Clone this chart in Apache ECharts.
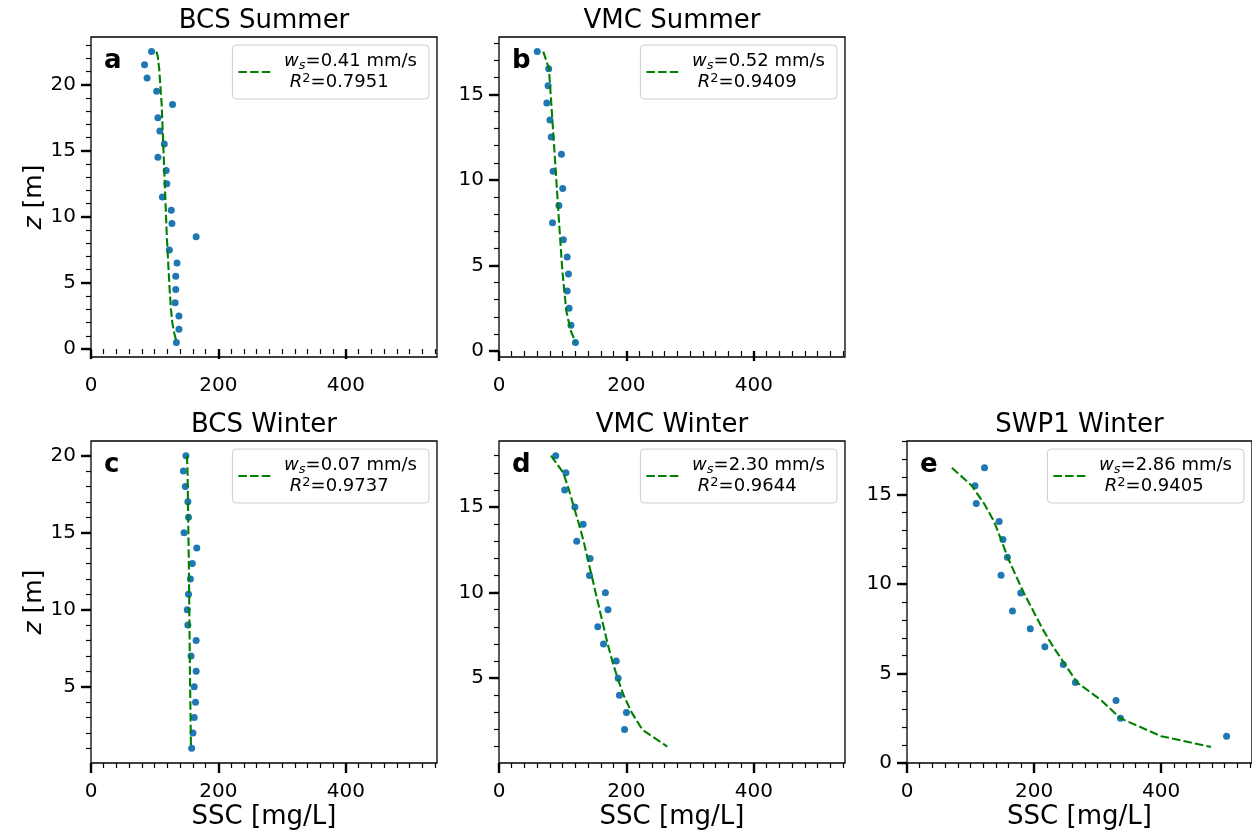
<!DOCTYPE html>
<html><head><meta charset="utf-8">
<script src="https://cdn.jsdelivr.net/npm/echarts@6/dist/echarts.min.js"></script>
<style>html,body{margin:0;padding:0;background:#fff}#c{width:1252px;height:836px}</style>
</head><body><div id="c"></div>
<script>
// ---------- data ----------
const titles = ['BCS Summer', 'VMC Summer', 'BCS Winter', 'VMC Winter', 'SWP1 Winter'];
const letters = ['a', 'b', 'c', 'd', 'e'];
const wsVals = ['0.41', '0.52', '0.07', '2.30', '2.86'];
const r2Vals = ['0.7951', '0.9409', '0.9737', '0.9644', '0.9405'];

// Panel a: BCS Summer
const aZ = [22.5,21.5,20.5,19.5,18.5,17.5,16.5,15.5,14.5,13.5,12.5,11.5,10.5,9.5,8.5,7.5,6.5,5.5,4.5,3.5,2.5,1.5,0.5];
const aSSC = [95,84,88,103,128,105,108,115,105,118,119,112,126,127,165,123,135,133,133,132,138,138,134];
const aFitZ = [22.5,22.2,21.2,18.5,13.5,8.5,4.5,3,2,1.2,0.5];
const aFitSSC = [102.5,104.6,107,110.9,115,119,123.4,125.5,127.6,130.7,134.4];

// Panel b: VMC Summer
const bZ = [17.5,16.5,15.5,14.5,13.5,12.5,11.5,10.5,9.5,8.5,7.5,6.5,5.5,4.5,3.5,2.5,1.5,0.5];
const bSSC = [60,78,77,75,80,82,98,85,100,94,84,101,107,109,107,110,113,120];
const bFitZ = [17.5,16.5,13.55,10.6,7.6,4.7,2.35,1.2,0.5];
const bFitSSC = [69.5,78.4,83.7,88.9,94.1,99.4,105.6,112.4,120.3];

// Panel c: BCS Winter
const cZ = [20,19,18,17,16,15,14,13,12,11,10,9,8,7,6,5,4,3,2,1];
const cSSC = [149,145,148,152,153,146,166,159,156,153,151,152,165,157,165,162,164,162,160,158];
const cFitZ = [20,18.8,12.4,5.8,1];
const cFitSSC = [150.6,151.6,153.7,155.3,156.9];

// Panel d: VMC Winter
const dZ = [18,17,16,15,14,13,12,11,10,9,8,7,6,5,4,3,2];
const dSSC = [89,105,103,119,132,122,143,142,167,171,155,164,184,187,189,200,197];
const dFitZ = [18,17,16,15,14,13,12,11,10,9,8,7,6,5,4,3,2,1];
const dFitSSC = [81.6,100.9,109.8,117.6,125.5,132.8,139,145.4,151.6,157.9,164.2,170.5,177.8,186.1,195.6,208.1,224.8,264.1];

// Panel e: SWP1 Winter
const eZ = [16.5,15.5,14.5,13.5,12.5,11.5,10.5,9.5,8.5,7.5,6.5,5.5,4.5,3.5,2.5,1.5];
const eSSC = [122,107,109,145,151,158,148,179,166,194,217,246,265,329,336,503];
const eFitZ = [16.5,15.5,14.5,13.5,12.5,11.5,10.5,9.5,8.5,7.5,6.5,5.5,4.5,3.5,2.5,1.5,0.9];
const eFitSSC = [70.6,102,121.3,137,148,158.4,171,184,198.7,213.3,230,248.9,267.7,306,335.7,400,478.4];

// ticks
const xMajor = [0, 200, 400];
const xMinor = [20,40,60,80,100,120,140,160,180,220,240,260,280,300,320,340,360,380,420,440,460,480,500,520,540];
const yMajorA = [0,5,10,15,20];
const yMajorB = [0,5,10,15];
const yMajorC = [5,10,15,20];
const yMajorD = [5,10,15];
const yMajorE = [0,5,10,15];
const yMinorA = [0,1,2,3,4,5,6,7,8,9,10,11,12,13,14,15,16,17,18,19,20,21,22,23];
const yMinorB = [0,1,2,3,4,5,6,7,8,9,10,11,12,13,14,15,16,17,18];
const yMinorC = [1,2,3,4,5,6,7,8,9,10,11,12,13,14,15,16,17,18,19,20];
const yMinorD = [1,2,3,4,5,6,7,8,9,10,11,12,13,14,15,16,17,18];
const yMinorE = [0,1,2,3,4,5,6,7,8,9,10,11,12,13,14,15,16,17,18];

// ---------- layout ----------
const FONT = 'DejaVu Sans';
const W = 1252;
const xMax = 543;
const layout = [
  {left:91, top:37, width:346, height:320},
  {left:499, top:37, width:346, height:320},
  {left:91, top:441, width:346, height:322},
  {left:499, top:441, width:346, height:322},
  {left:907, top:441, width:345, height:322}
];
const panels = [
  {z:aZ, s:aSSC, fz:aFitZ, fs:aFitSSC, ymin:-0.6, ymax:23.6, maj:yMajorA, min:yMinorA, yName:true, xName:false},
  {z:bZ, s:bSSC, fz:bFitZ, fs:bFitSSC, ymin:-0.35, ymax:18.35, maj:yMajorB, min:yMinorB, yName:false, xName:false},
  {z:cZ, s:cSSC, fz:cFitZ, fs:cFitSSC, ymin:0.05, ymax:20.95, maj:yMajorC, min:yMinorC, yName:true, xName:true},
  {z:dZ, s:dSSC, fz:dFitZ, fs:dFitSSC, ymin:0.045, ymax:18.86, maj:yMajorD, min:yMinorD, yName:false, xName:true},
  {z:eZ, s:eSSC, fz:eFitZ, fs:eFitSSC, ymin:0, ymax:18, maj:yMajorE, min:yMinorE, yName:false, xName:true}
];

const grids = [], xAxes = [], yAxes = [], series = [], legends = [], graphics = [];
const richText = {
  t: {fontFamily: FONT, fontSize: 18, color: '#000', lineHeight: 21},
  i: {fontFamily: FONT, fontSize: 18, color: '#000', lineHeight: 21, fontStyle: 'italic'},
  sub: {fontFamily: FONT, fontSize: 13, color: '#000', fontStyle: 'italic', verticalAlign: 'bottom', lineHeight: 13},
  sup: {fontFamily: FONT, fontSize: 13, color: '#000', verticalAlign: 'top', lineHeight: 13}
};

panels.forEach((p, i) => {
  const L = layout[i];
  grids.push({left: L.left, top: L.top, width: L.width, height: L.height, show: true,
    borderColor: '#000', borderWidth: 1.3, backgroundColor: 'transparent'});
  xAxes.push({type: 'value', gridIndex: i, min: 0, max: xMax, interval: 200, position: 'bottom',
    axisLine: {show: false}, splitLine: {show: false},
    axisTick: {show: true, inside: false, length: 10, customValues: xMajor, lineStyle: {color: '#000', width: 2.4}},
    axisLabel: {show: true, customValues: xMajor, margin: 19, color: '#000', fontFamily: FONT, fontSize: 20},
    name: p.xName ? 'SSC [mg/L]' : '', nameLocation: 'middle', nameGap: 41,
    nameTextStyle: {fontFamily: FONT, fontSize: 26, color: '#000'}
  });
  xAxes.push({type: 'value', gridIndex: i, min: 0, max: xMax, interval: 20, position: 'bottom',
    axisLine: {show: false}, splitLine: {show: false}, axisLabel: {show: false},
    axisTick: {show: true, inside: false, length: 5, customValues: xMinor, lineStyle: {color: '#000', width: 1.2}}
  });
  yAxes.push({type: 'value', gridIndex: i, min: p.ymin, max: p.ymax, position: 'left',
    axisLine: {show: false}, splitLine: {show: false},
    axisTick: {show: true, inside: false, length: 10, customValues: p.maj, lineStyle: {color: '#000', width: 2.4}},
    axisLabel: {show: true, customValues: p.maj, margin: 15, color: '#000', fontFamily: FONT, fontSize: 20},
    name: p.yName ? '{i|z} [m]' : '', nameLocation: 'middle', nameGap: 44, nameRotate: 90,
    nameTextStyle: {fontFamily: FONT, fontSize: 25, color: '#000',
      rich: {i: {fontFamily: FONT, fontSize: 25, color: '#000', fontStyle: 'italic'}}}
  });
  yAxes.push({type: 'value', gridIndex: i, min: p.ymin, max: p.ymax, position: 'left',
    axisLine: {show: false}, splitLine: {show: false}, axisLabel: {show: false},
    axisTick: {show: true, inside: false, length: 5, customValues: p.min, lineStyle: {color: '#000', width: 1.2}}
  });
  const fitName = 'fit' + letters[i];
  series.push({type: 'scatter', name: 'obs' + letters[i], xAxisIndex: 2 * i, yAxisIndex: 2 * i,
    data: p.s.map((v, k) => [v, p.z[k]]), symbolSize: 7, itemStyle: {color: '#1f77b4', opacity: 1}, z: 2});
  series.push({type: 'line', name: fitName, xAxisIndex: 2 * i, yAxisIndex: 2 * i,
    data: p.fs.map((v, k) => [v, p.fz[k]]), symbol: 'none', showSymbol: false,
    lineStyle: {color: '#008000', width: 2.1, type: [8.5, 3.2]}, itemStyle: {color: '#008000'}, z: 3});
  legends.push({show: true, data: [fitName], selectedMode: false,
    right: W - (L.left + L.width) + 8, top: L.top + 8, orient: 'vertical',
    itemWidth: 35, itemHeight: 14, padding: [6, 12, 6, 5],
    itemStyle: {opacity: 0, color: 'transparent', borderWidth: 0},
    backgroundColor: 'rgba(255,255,255,0.8)', borderColor: '#cccccc', borderWidth: 1, borderRadius: 4,
    formatter: () => '{t| }{i|w}{sub|s}{t|=' + wsVals[i] + ' mm/s}\n{t|  }{i|R}{sup|2}{t|=' + r2Vals[i] + '}',
    textStyle: {fontFamily: FONT, fontSize: 18, color: '#000', lineHeight: 21, rich: richText}
  });
  graphics.push({type: 'text', x: L.left + L.width / 2, y: L.top - 16,
    style: {text: titles[i], font: '26px "DejaVu Sans"', fill: '#000', textAlign: 'center', verticalAlign: 'middle'}});
  graphics.push({type: 'text', x: L.left + 13, y: L.top + 24,
    style: {text: letters[i], font: 'bold 26px "DejaVu Sans"', fill: '#000', textAlign: 'left', verticalAlign: 'middle'}});
});

const chart = echarts.init(document.getElementById('c'), null, {renderer: 'canvas'});
chart.setOption({
  animation: false,
  backgroundColor: '#fff',
  grid: grids, xAxis: xAxes, yAxis: yAxes, series: series, legend: legends, graphic: graphics
});
</script></body></html>
